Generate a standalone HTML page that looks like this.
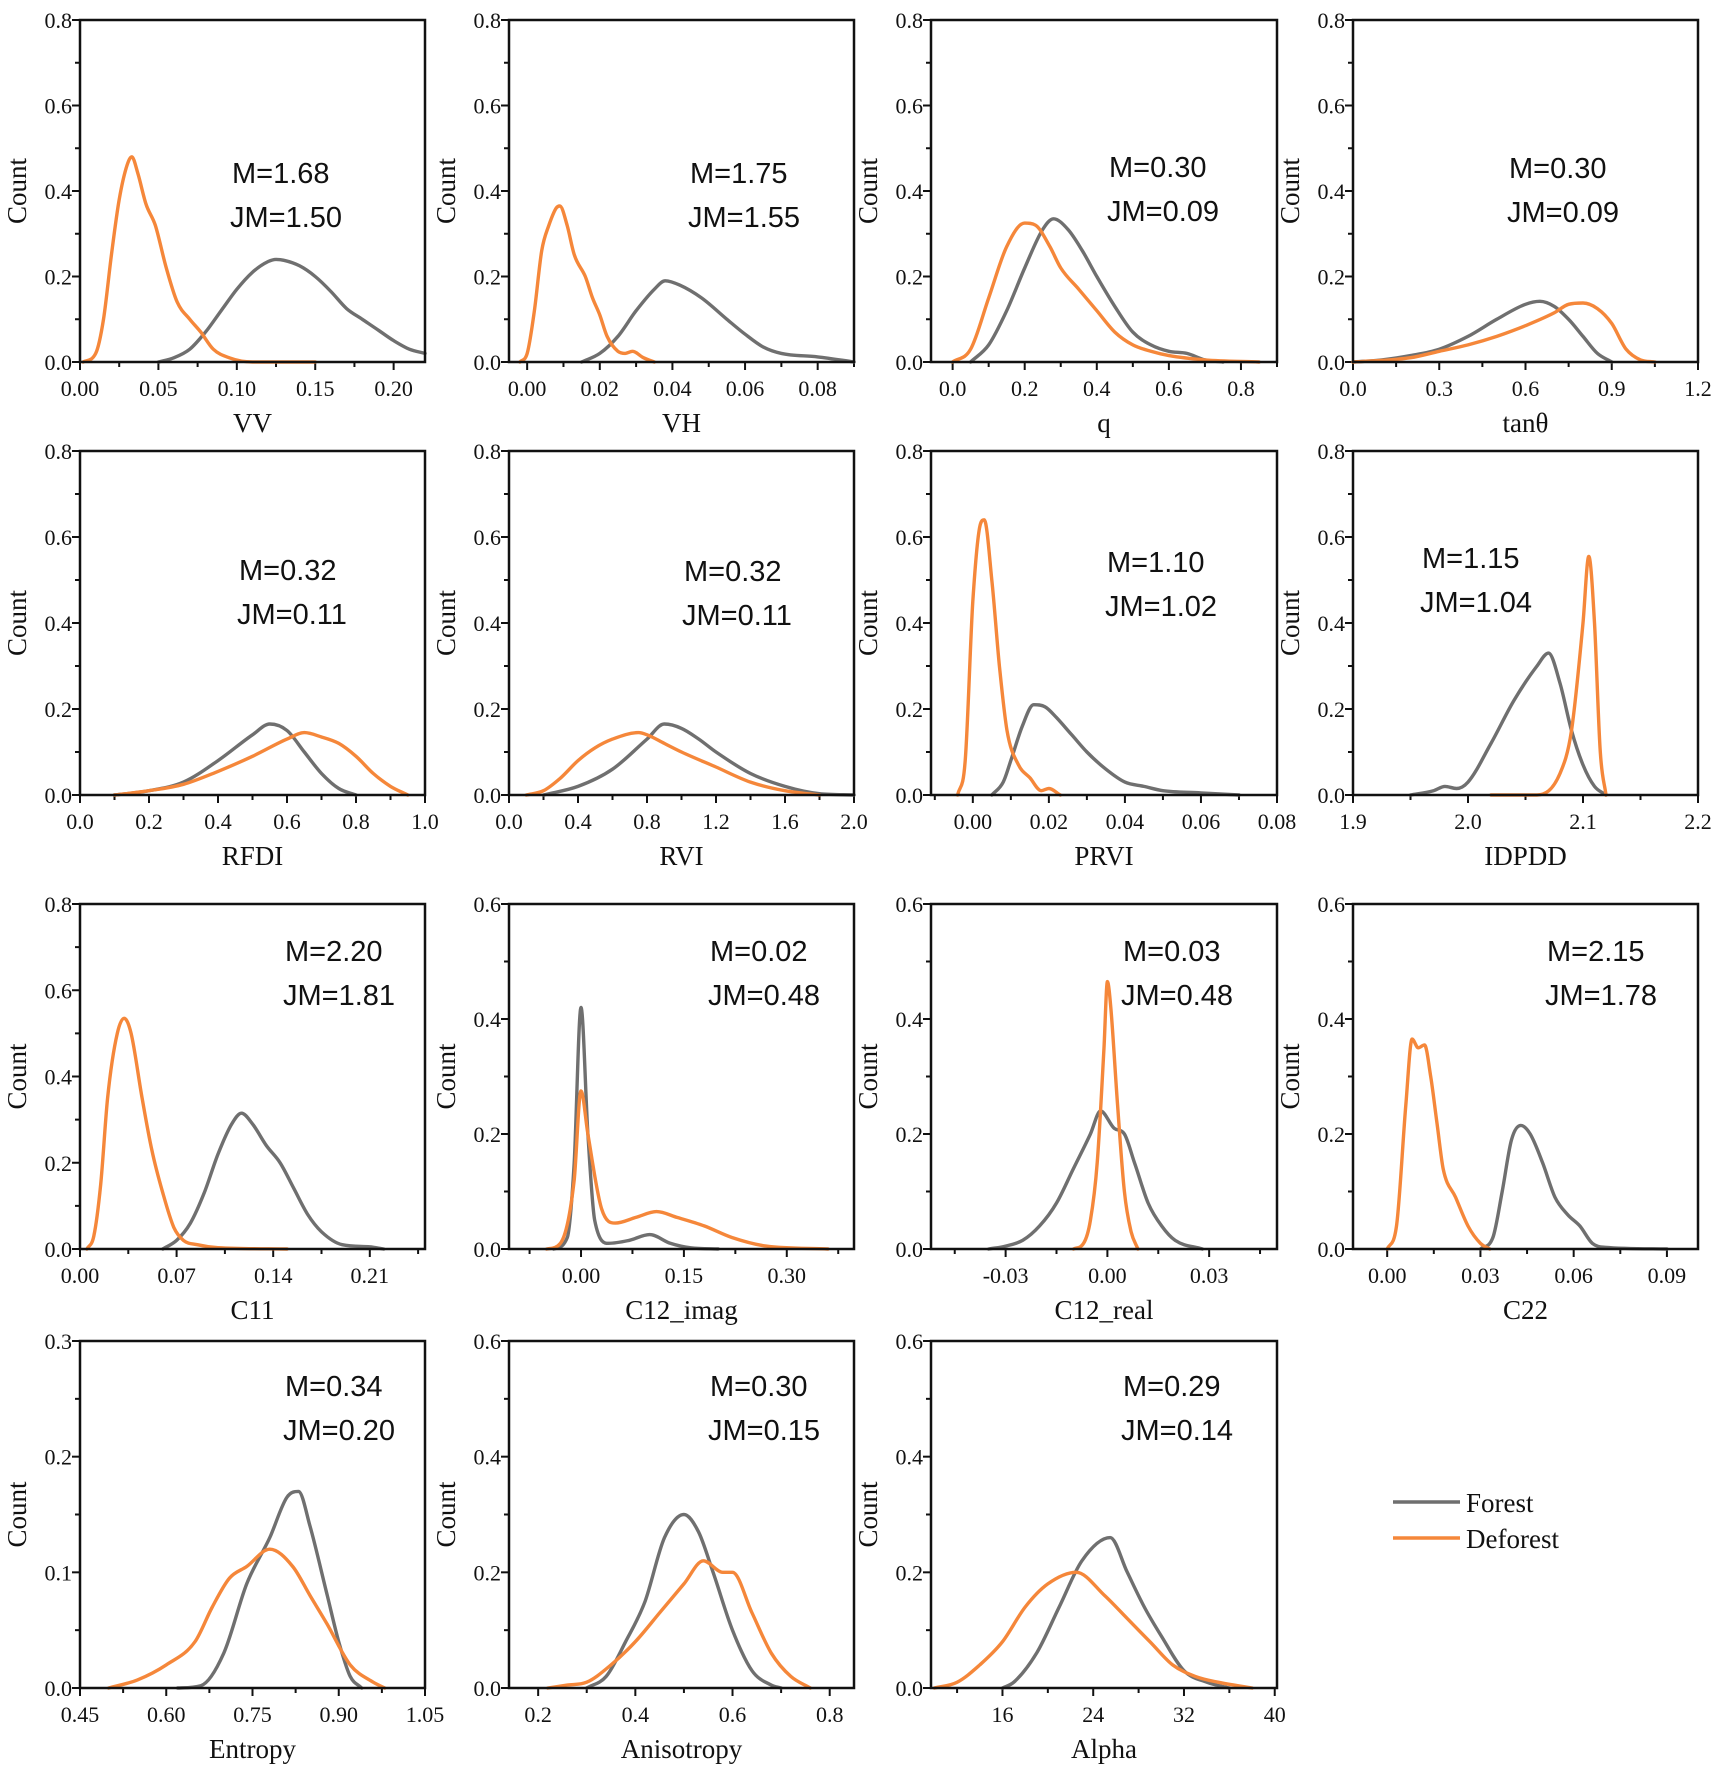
<!DOCTYPE html>
<html><head><meta charset="utf-8">
<style>
html,body{margin:0;padding:0;background:#fff;}
svg{display:block;}
.tk{font-family:"Liberation Serif",serif;font-size:22px;fill:#111;}
.tt{font-family:"Liberation Serif",serif;font-size:27px;fill:#111;}
.mm{font-family:"Liberation Sans",sans-serif;font-size:29px;fill:#111;}
</style></head>
<body>
<svg id="chart" width="1718" height="1772" viewBox="0 0 1718 1772" xmlns="http://www.w3.org/2000/svg"></svg>
<script>
// ---- data ----
const panelNames = ["VV","VH","q","tanθ","RFDI","RVI","PRVI","IDPDD","C11","C12_imag","C12_real","C22","Entropy","Anisotropy","Alpha"];
const mLabels = ["M=1.68","M=1.75","M=0.30","M=0.30","M=0.32","M=0.32","M=1.10","M=1.15","M=2.20","M=0.02","M=0.03","M=2.15","M=0.34","M=0.30","M=0.29"];
const jmLabels = ["JM=1.50","JM=1.55","JM=0.09","JM=0.09","JM=0.11","JM=0.11","JM=1.02","JM=1.04","JM=1.81","JM=0.48","JM=0.48","JM=1.78","JM=0.20","JM=0.15","JM=0.14"];
const xDomains = [[0,0.22],[-0.005,0.09],[-0.06,0.9],[0,1.2],[0,1],[0,2],[-0.011,0.08],[1.9,2.2],[0,0.25],[-0.105,0.398],[-0.052,0.05],[-0.011,0.1],[0.45,1.05],[0.14,0.85],[9.7,40.2]];
const yMax = [0.8,0.8,0.8,0.8,0.8,0.8,0.8,0.8,0.8,0.6,0.6,0.6,0.3,0.6,0.6];
const xTicks = [[0,0.05,0.10,0.15,0.20],[0,0.02,0.04,0.06,0.08],[0,0.2,0.4,0.6,0.8],[0,0.3,0.6,0.9,1.2],[0,0.2,0.4,0.6,0.8,1.0],[0,0.4,0.8,1.2,1.6,2.0],[0,0.02,0.04,0.06,0.08],[1.9,2.0,2.1,2.2],[0,0.07,0.14,0.21],[0,0.15,0.30],[-0.03,0,0.03],[0,0.03,0.06,0.09],[0.45,0.60,0.75,0.90,1.05],[0.2,0.4,0.6,0.8],[16,24,32,40]];
const xTickLabels = [["0.00","0.05","0.10","0.15","0.20"],["0.00","0.02","0.04","0.06","0.08"],["0.0","0.2","0.4","0.6","0.8"],["0.0","0.3","0.6","0.9","1.2"],["0.0","0.2","0.4","0.6","0.8","1.0"],["0.0","0.4","0.8","1.2","1.6","2.0"],["0.00","0.02","0.04","0.06","0.08"],["1.9","2.0","2.1","2.2"],["0.00","0.07","0.14","0.21"],["0.00","0.15","0.30"],["-0.03","0.00","0.03"],["0.00","0.03","0.06","0.09"],["0.45","0.60","0.75","0.90","1.05"],["0.2","0.4","0.6","0.8"],["16","24","32","40"]];
const forestX = [
[0.05,0.06,0.07,0.08,0.09,0.10,0.11,0.12,0.125,0.13,0.14,0.15,0.16,0.17,0.18,0.19,0.20,0.21,0.22],
[0.015,0.02,0.025,0.03,0.035,0.038,0.042,0.048,0.055,0.06,0.065,0.07,0.08,0.09],
[0.05,0.1,0.15,0.2,0.25,0.28,0.32,0.36,0.4,0.45,0.5,0.55,0.6,0.65,0.7,0.75],
[0,0.1,0.2,0.3,0.4,0.5,0.6,0.65,0.7,0.75,0.8,0.85,0.9],
[0.1,0.2,0.3,0.4,0.5,0.55,0.6,0.65,0.7,0.75,0.8],
[0.2,0.4,0.6,0.8,0.9,1.0,1.1,1.2,1.4,1.6,1.8,2.0],
[0.005,0.008,0.01,0.013,0.016,0.019,0.022,0.026,0.03,0.035,0.04,0.045,0.05,0.06,0.07],
[1.95,1.97,1.98,1.99,2.0,2.02,2.04,2.06,2.07,2.08,2.09,2.1,2.11,2.12],
[0.06,0.07,0.08,0.09,0.1,0.11,0.117,0.125,0.135,0.145,0.155,0.165,0.175,0.19,0.21,0.22],
[-0.04,-0.02,-0.01,0,0.01,0.02,0.04,0.07,0.1,0.13,0.16,0.2],
[-0.035,-0.03,-0.025,-0.02,-0.015,-0.01,-0.005,-0.002,0.002,0.005,0.008,0.012,0.016,0.02,0.028],
[0.03,0.034,0.037,0.04,0.043,0.046,0.05,0.054,0.058,0.062,0.066,0.07,0.09],
[0.62,0.66,0.7,0.74,0.78,0.81,0.83,0.85,0.88,0.9,0.92,0.94],
[0.3,0.34,0.38,0.42,0.46,0.5,0.53,0.56,0.6,0.64,0.68,0.7],
[16,17,19,21,23,25.5,27,28.5,30,32,34,36]];
const forestY = [
[0,0.01,0.03,0.07,0.12,0.17,0.21,0.235,0.24,0.238,0.225,0.2,0.165,0.125,0.1,0.075,0.05,0.03,0.02],
[0,0.02,0.06,0.12,0.17,0.19,0.18,0.15,0.1,0.065,0.035,0.02,0.012,0],
[0,0.04,0.12,0.22,0.31,0.335,0.31,0.26,0.2,0.13,0.07,0.04,0.025,0.02,0.005,0],
[0,0.005,0.015,0.03,0.06,0.1,0.135,0.142,0.13,0.1,0.06,0.02,0],
[0,0.01,0.03,0.08,0.14,0.165,0.15,0.1,0.05,0.015,0],
[0,0.02,0.06,0.13,0.165,0.155,0.13,0.1,0.05,0.02,0.003,0],
[0,0.03,0.08,0.16,0.21,0.205,0.18,0.14,0.1,0.06,0.03,0.02,0.01,0.005,0],
[0,0.01,0.02,0.015,0.03,0.12,0.22,0.3,0.33,0.26,0.15,0.07,0.02,0],
[0,0.02,0.06,0.13,0.22,0.29,0.315,0.29,0.24,0.2,0.14,0.08,0.04,0.01,0.005,0],
[0,0.02,0.15,0.42,0.2,0.05,0.01,0.015,0.025,0.01,0.002,0],
[0,0.005,0.015,0.04,0.08,0.14,0.2,0.24,0.21,0.2,0.15,0.08,0.04,0.015,0],
[0,0.02,0.1,0.19,0.215,0.2,0.15,0.09,0.06,0.04,0.01,0.003,0],
[0,0.002,0.03,0.09,0.13,0.165,0.17,0.14,0.08,0.04,0.01,0],
[0,0.02,0.08,0.15,0.26,0.3,0.27,0.2,0.1,0.03,0.005,0],
[0,0.01,0.06,0.14,0.22,0.26,0.2,0.14,0.09,0.03,0.01,0]];
const deforestX = [
[0.002,0.01,0.015,0.02,0.025,0.03,0.033,0.037,0.042,0.048,0.055,0.062,0.07,0.077,0.085,0.095,0.11,0.15],
[-0.002,0,0.002,0.004,0.006,0.008,0.009,0.011,0.013,0.016,0.018,0.02,0.022,0.025,0.027,0.029,0.032,0.035],
[0,0.05,0.1,0.15,0.2,0.23,0.27,0.3,0.35,0.4,0.45,0.5,0.55,0.6,0.7,0.85],
[0,0.2,0.3,0.4,0.5,0.6,0.7,0.75,0.8,0.85,0.9,0.95,1.0,1.05],
[0.1,0.2,0.3,0.4,0.5,0.6,0.65,0.7,0.75,0.8,0.85,0.9,0.95],
[0.1,0.2,0.3,0.4,0.5,0.6,0.75,0.8,0.9,1.0,1.2,1.4,1.6,1.8],
[-0.004,-0.002,0,0.002,0.003,0.005,0.007,0.009,0.012,0.015,0.018,0.02,0.023],
[2.02,2.06,2.08,2.09,2.1,2.105,2.11,2.115,2.12],
[0.005,0.01,0.015,0.02,0.027,0.032,0.037,0.045,0.052,0.06,0.068,0.075,0.085,0.1,0.15],
[-0.05,-0.03,-0.01,0,0.01,0.03,0.05,0.08,0.11,0.14,0.18,0.22,0.27,0.36],
[-0.01,-0.007,-0.005,-0.003,-0.001,0,0.001,0.003,0.005,0.007,0.009],
[0,0.003,0.006,0.008,0.01,0.012,0.014,0.016,0.018,0.022,0.026,0.03,0.033],
[0.5,0.55,0.6,0.65,0.68,0.71,0.74,0.78,0.82,0.85,0.88,0.92,0.96,0.98],
[0.22,0.26,0.3,0.35,0.4,0.45,0.5,0.54,0.58,0.6,0.64,0.68,0.72,0.76],
[10,12,14,16,18,20,22.5,25,27,29,31,33,35,38]];
const deforestY = [
[0,0.02,0.1,0.25,0.38,0.46,0.48,0.44,0.37,0.32,0.22,0.14,0.1,0.07,0.03,0.01,0,0],
[0,0.02,0.12,0.26,0.32,0.36,0.365,0.32,0.25,0.2,0.15,0.11,0.06,0.025,0.02,0.025,0.01,0],
[0,0.03,0.15,0.27,0.325,0.32,0.27,0.22,0.17,0.12,0.07,0.04,0.025,0.015,0.005,0],
[0,0.01,0.025,0.04,0.06,0.085,0.115,0.135,0.138,0.125,0.09,0.03,0.005,0],
[0,0.01,0.025,0.055,0.09,0.13,0.145,0.135,0.12,0.09,0.05,0.02,0],
[0,0.01,0.04,0.08,0.11,0.13,0.145,0.14,0.12,0.1,0.065,0.03,0.01,0],
[0,0.08,0.45,0.63,0.64,0.5,0.3,0.15,0.07,0.04,0.01,0.015,0],
[0,0,0.05,0.15,0.4,0.555,0.4,0.1,0],
[0,0.03,0.15,0.35,0.5,0.535,0.5,0.35,0.23,0.13,0.05,0.02,0.01,0.003,0],
[0,0.01,0.12,0.275,0.2,0.07,0.045,0.055,0.065,0.055,0.04,0.02,0.005,0],
[0,0.01,0.05,0.15,0.35,0.465,0.42,0.25,0.1,0.03,0],
[0,0.04,0.25,0.365,0.35,0.355,0.3,0.22,0.14,0.09,0.04,0.01,0],
[0,0.007,0.02,0.04,0.07,0.095,0.105,0.12,0.105,0.08,0.055,0.02,0.005,0],
[0,0.005,0.01,0.04,0.08,0.13,0.18,0.22,0.2,0.2,0.13,0.06,0.02,0],
[0,0.01,0.04,0.08,0.14,0.18,0.2,0.16,0.12,0.08,0.04,0.02,0.01,0]];

// ---- layout ----
const colX = [[80,425],[509,854],[931,1277],[1353,1698]];
const rowY = [[20,362],[451,795],[904,1249],[1341,1688]];
const mPos = [[232,183],[690,183],[1109,177],[1509,178],[239,580],[684,581],[1107,572],[1422,568],[285,961],[710,961],[1123,961],[1547,961],[285,1396],[710,1396],[1123,1396]];
const NS = "http://www.w3.org/2000/svg";
const svg = document.getElementById('chart');
function mk(tag, attrs, parent){const e=document.createElementNS(NS,tag);for(const k in attrs)e.setAttribute(k,attrs[k]);(parent||svg).appendChild(e);return e;}
function fmtY(v){return v.toFixed(1);}
// monotone cubic path through pixel points
function smoothPath(px,py){
  const n=px.length; if(n<2) return '';
  const d=[],m=new Array(n);
  for(let k=0;k<n-1;k++) d.push((py[k+1]-py[k])/(px[k+1]-px[k]));
  m[0]=d[0]; m[n-1]=d[n-2];
  for(let k=1;k<n-1;k++){ m[k]=(d[k-1]*d[k]<=0)?0:(d[k-1]+d[k])/2; }
  for(let k=0;k<n-1;k++){ if(d[k]===0){m[k]=0;m[k+1]=0;continue;}
    const a=m[k]/d[k],b=m[k+1]/d[k],s=a*a+b*b; if(s>9){const t=3/Math.sqrt(s);m[k]=t*a*d[k];m[k+1]=t*b*d[k];} }
  let p='M'+px[0].toFixed(1)+','+py[0].toFixed(1);
  for(let k=0;k<n-1;k++){const h=(px[k+1]-px[k])/3;
    p+=' C'+(px[k]+h).toFixed(1)+','+(py[k]+m[k]*h).toFixed(1)+' '+(px[k+1]-h).toFixed(1)+','+(py[k+1]-m[k+1]*h).toFixed(1)+' '+px[k+1].toFixed(1)+','+py[k+1].toFixed(1);}
  return p;
}

panelNames.forEach((name,i)=>{
  const r=Math.floor(i/4), c=i%4;
  const [x0,x1]=colX[c], [y0,y1]=rowY[r];
  const [d0,d1]=xDomains[i];
  const sx=v=>x0+(v-d0)/(d1-d0)*(x1-x0);
  const sy=v=>y1-(v/yMax[i])*(y1-y0);
  const g=mk('g',{});
  
  
  const ystep = yMax[i]===0.3?0.1:0.2;
  const nY=Math.round(yMax[i]/ystep);
  for(let k=0;k<=nY*2;k++){
    const v=k*ystep/2, y=sy(v), major=k%2===0;
    mk('line',{x1:x0-(major?8:5),x2:x0,y1:y,y2:y,stroke:'#111','stroke-width':2},g);
    if(major){const t=mk('text',{x:x0-8,y:y+8,'text-anchor':'end',class:'tk'},g);t.textContent=fmtY(v);
      }
  }
  const xt=xTicks[i];
  const step=xt[1]-xt[0];
  for(let v=xt[0]-step*4;v<=d1+1e-9;v+=step/2){
    if(v<d0-1e-9)continue;
    const x=sx(v);
    const idx=Math.round((v-xt[0])/(step/2));
    const major=idx%2===0;
    mk('line',{x1:x,x2:x,y1:y1,y2:y1+(major?8:5),stroke:'#111','stroke-width':2},g);
  }
  xt.forEach((v,k)=>{const t=mk('text',{x:sx(v),y:y1+34,'text-anchor':'middle',class:'tk'},g);t.textContent=xTickLabels[i][k];
    });
  [[forestX[i],forestY[i],'#6f6f6f','forest-curve'],[deforestX[i],deforestY[i],'#f5873a','deforest-curve']].forEach(s=>{
    const p=mk('path',{d:smoothPath(s[0].map(sx),s[1].map(sy)),fill:'none',stroke:s[2],'stroke-width':3.4,'stroke-linejoin':'round','stroke-linecap':'round'},g);
    
    
  });
  const b=mk('rect',{x:x0,y:y0,width:x1-x0,height:y1-y0,fill:'none',stroke:'#111','stroke-width':2.5},g);
  
  
  const xtl=mk('text',{x:(x0+x1)/2,y:y1+70,'text-anchor':'middle',class:'tt'},g);xtl.textContent=name;
  
  
  const cy=(y0+y1)/2, cx=x0-54;
  const ytl=mk('text',{x:cx,y:cy,'text-anchor':'middle',class:'tt',transform:`rotate(-90 ${cx} ${cy})`},g);ytl.textContent='Count';
  
  
  const m=mk('text',{x:mPos[i][0],y:mPos[i][1],class:'mm'},g);m.textContent=mLabels[i];
  
  
  const jm=mk('text',{x:mPos[i][0]-2,y:mPos[i][1]+44,class:'mm'},g);jm.textContent=jmLabels[i];
  
  
});
const lg=mk('g',{});


[['Forest','#6f6f6f',1502],['Deforest','#f5873a',1538]].forEach(e=>{
  const l=mk('line',{x1:1393,x2:1460,y1:e[2],y2:e[2],stroke:e[1],'stroke-width':3.5},lg);
  
  
  const t=mk('text',{x:1466,y:e[2]+10,class:'tt'},lg);t.textContent=e[0];
  
  
});
</script>
</body></html>
